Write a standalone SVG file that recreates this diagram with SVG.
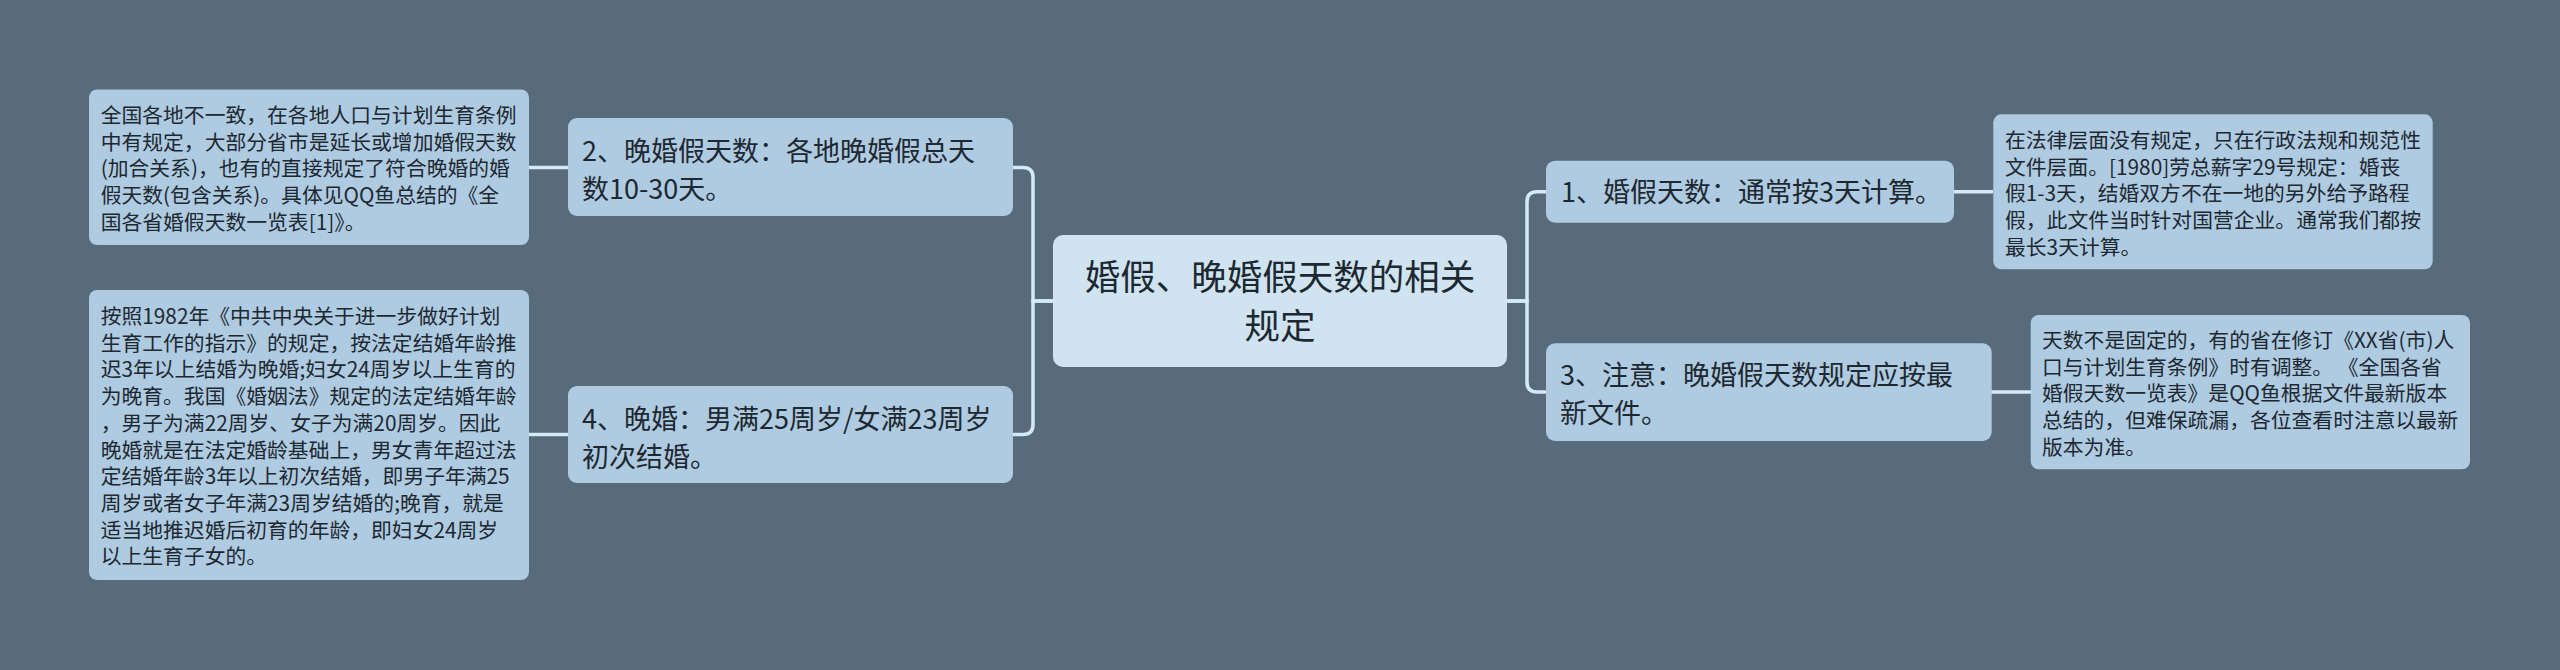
<svg xmlns="http://www.w3.org/2000/svg" width="2560" height="670" viewBox="0 0 2560 670">
<style>
.bg{fill:#576b7a}
.node{fill:#aecbe2}
.root{fill:#cfe4f0}
.t{font-family:"Noto Sans CJK SC","Noto Sans",sans-serif;fill:#1e2830}
.note{font-size:20.8px}
.mid{font-size:27px}
.big{font-size:35.5px}
.conn{fill:none;stroke:#d4eaf6;stroke-width:3.5}
</style>
<rect class="bg" x="0" y="0" width="2560" height="670"/>
<g id="connectors">
<path class="conn" d="M1053,301 H1033 V177.5 Q1033,167.5 1023,167.5 H1013"/>
<path class="conn" d="M1053,301 H1033 V424.5 Q1033,434.5 1023,434.5 H1013"/>
<path class="conn" d="M568,167.5 H529"/>
<path class="conn" d="M568,434.5 H529"/>
<path class="conn" d="M1507,301 H1527 V201.7 Q1527,191.7 1537,191.7 H1546"/>
<path class="conn" d="M1507,301 H1527 V382 Q1527,392 1537,392 H1546"/>
<path class="conn" d="M1954,191.7 H1993"/>
<path class="conn" d="M1991,392 H2031"/>
</g>
<g id="root">
<rect class="root" x="1053" y="235" width="454" height="132" rx="10"/>
<text class="t big" text-anchor="middle"><tspan x="1280" y="290">婚假、晚婚假天数的相关</tspan><tspan x="1280" y="339">规定</tspan></text>
</g>
<g id="node2">
<rect class="node" x="568" y="118" width="445" height="98" rx="9"/>
<text class="t mid"><tspan x="582" y="161.3">2、晚婚假天数：各地晚婚假总天</tspan><tspan x="582" y="199.3">数10-30天。</tspan></text>
</g>
<g id="node4">
<rect class="node" x="568" y="386" width="445" height="97" rx="9"/>
<text class="t mid"><tspan x="582" y="429.3">4、晚婚：男满25周岁/女满23周岁</tspan><tspan x="582" y="467.3">初次结婚。</tspan></text>
</g>
<g id="node1">
<rect class="node" x="1546" y="160.7" width="408" height="62" rx="9"/>
<text class="t mid"><tspan x="1561" y="202">1、婚假天数：通常按3天计算。</tspan></text>
</g>
<g id="node3">
<rect class="node" x="1546" y="343.3" width="445.7" height="97.7" rx="9"/>
<text class="t mid"><tspan x="1560" y="385">3、注意：晚婚假天数规定应按最</tspan><tspan x="1560" y="423">新文件。</tspan></text>
</g>
<g id="noteL1">
<rect class="node" x="89" y="89.5" width="440" height="155.5" rx="8"/>
<text class="t note"><tspan x="100.7" y="123">全国各地不一致，在各地人口与计划生育条例</tspan><tspan x="100.7" y="149.7">中有规定，大部分省市是延长或增加婚假天数</tspan><tspan x="100.7" y="176.4">(加合关系)，也有的直接规定了符合晚婚的婚</tspan><tspan x="100.7" y="203.1">假天数(包含关系)。具体见QQ鱼总结的《全</tspan><tspan x="100.7" y="229.8">国各省婚假天数一览表[1]》。</tspan></text>
</g>
<g id="noteL2">
<rect class="node" x="89" y="290" width="440" height="290" rx="8"/>
<text class="t note"><tspan x="100.7" y="324">按照1982年《中共中央关于进一步做好计划</tspan><tspan x="100.7" y="350.7">生育工作的指示》的规定，按法定结婚年龄推</tspan><tspan x="100.7" y="377.4">迟3年以上结婚为晚婚;妇女24周岁以上生育的</tspan><tspan x="100.7" y="404.1">为晚育。我国《婚姻法》规定的法定结婚年龄</tspan><tspan x="100.7" y="430.8">，男子为满22周岁、女子为满20周岁。因此</tspan><tspan x="100.7" y="457.5">晚婚就是在法定婚龄基础上，男女青年超过法</tspan><tspan x="100.7" y="484.2">定结婚年龄3年以上初次结婚，即男子年满25</tspan><tspan x="100.7" y="510.9">周岁或者女子年满23周岁结婚的;晚育，就是</tspan><tspan x="100.7" y="537.6">适当地推迟婚后初育的年龄，即妇女24周岁</tspan><tspan x="100.7" y="564.3">以上生育子女的。</tspan></text>
</g>
<g id="noteR1">
<rect class="node" x="1993.3" y="114.3" width="439.4" height="155" rx="8"/>
<text class="t note"><tspan x="2005" y="148">在法律层面没有规定，只在行政法规和规范性</tspan><tspan x="2005" y="174.7">文件层面。[1980]劳总薪字29号规定：婚丧</tspan><tspan x="2005" y="201.4">假1-3天，结婚双方不在一地的另外给予路程</tspan><tspan x="2005" y="228.1">假，此文件当时针对国营企业。通常我们都按</tspan><tspan x="2005" y="254.8">最长3天计算。</tspan></text>
</g>
<g id="noteR2">
<rect class="node" x="2030.7" y="315" width="439.3" height="154.3" rx="8"/>
<text class="t note"><tspan x="2042" y="348">天数不是固定的，有的省在修订《XX省(市)人</tspan><tspan x="2042" y="374.7">口与计划生育条例》时有调整。 《全国各省</tspan><tspan x="2042" y="401.4">婚假天数一览表》是QQ鱼根据文件最新版本</tspan><tspan x="2042" y="428.1">总结的，但难保疏漏，各位查看时注意以最新</tspan><tspan x="2042" y="454.8">版本为准。</tspan></text>
</g>
</svg>
